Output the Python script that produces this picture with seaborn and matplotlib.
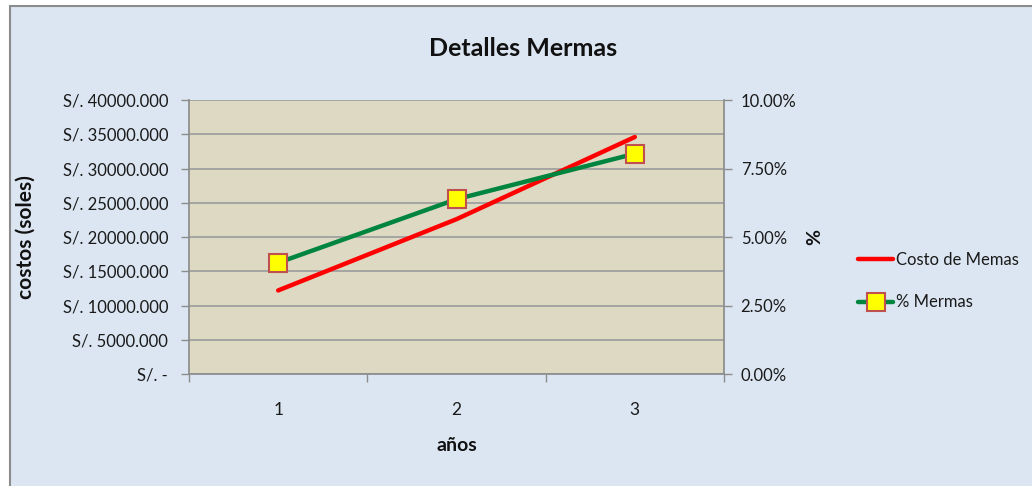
import matplotlib
matplotlib.use("Agg")
import matplotlib.pyplot as plt
import seaborn as sns
import pandas as pd
from matplotlib.patches import Rectangle
from matplotlib.ticker import FuncFormatter, FixedLocator, NullFormatter

# ---- data ----
years = [1, 2, 3]
costo_memas = [12200, 22600, 34600]
pct_mermas = [4.06, 6.38, 8.04]
year_labels = ["1", "2", "3"]
series_names = ["Costo de Memas", "% Mermas"]

sns.set_theme(style="white")
plt.rcParams['font.family'] = ['Lato', 'DejaVu Sans']

W, H = 1032, 486
fig = plt.figure(figsize=(W / 100, H / 100), dpi=100, facecolor="white")

# chart area background with border (top-left corner visible)
fig.patches.append(Rectangle((10 / W, -0.5), 1.5, 1.5 - 6 / H, transform=fig.transFigure,
                             facecolor="#dce6f2", edgecolor="#8c8c8c", linewidth=1.5, zorder=-10))

left, right, top, bottom = 189 / W, 724 / W, 100 / H, 374 / H
ax = fig.add_axes([left, 1 - bottom, right - left, bottom - top])
ax.set_facecolor("#ddd9c3")
ax2 = ax.twinx()

df = pd.DataFrame({"year": years, "costo": costo_memas, "pct": pct_mermas})

sns.lineplot(data=df, x="year", y="costo", ax=ax, color="#ff0000", linewidth=3.2,
             label=series_names[0], legend=False, zorder=3)
sns.lineplot(data=df, x="year", y="pct", ax=ax2, color="#00853e", linewidth=3.2,
             marker="s", markersize=13, markerfacecolor="#ffff00", markeredgecolor="#c0504d",
             markeredgewidth=1.5, label=series_names[1], legend=False, zorder=3)

ax.set_xlim(0.5, 3.5)
ax.set_ylim(0, 40000)
ax2.set_ylim(0, 10)

ax.set_yticks(range(0, 40001, 5000))
ax.yaxis.set_major_formatter(FuncFormatter(lambda v, p: "S/. -" if v == 0 else f"S/. {v:.3f}"))
ax2.set_yticks([0, 2.5, 5, 7.5, 10])
ax2.yaxis.set_major_formatter(FuncFormatter(lambda v, p: f"{v:.2f}%"))

# x category axis: ticks at boundaries, labels centered
ax.xaxis.set_major_locator(FixedLocator([0.5, 1.5, 2.5, 3.5]))
ax.xaxis.set_major_formatter(NullFormatter())
ax.xaxis.set_minor_locator(FixedLocator(years))
ax.set_xticklabels(year_labels, minor=True)
ax.tick_params(axis="x", which="major", length=6, color="#8c8c8c", width=1, direction="out", bottom=True)
ax.tick_params(axis="x", which="minor", length=0, pad=20, labelsize=12.5, labelcolor="#1a1a1a")
ax.tick_params(axis="y", length=6, color="#8c8c8c", width=1, direction="out", left=True,
               labelsize=12, labelcolor="#1a1a1a", pad=9)
ax2.tick_params(axis="y", length=6, color="#8c8c8c", width=1, direction="out", right=True,
                labelsize=12, labelcolor="#1a1a1a", pad=6)

ax.grid(axis="y", color="#a0a0a0", linewidth=1.3)
ax.grid(axis="x", visible=False)
ax2.grid(False)
for a in (ax, ax2):
    for s in a.spines.values():
        s.set_visible(False)
ax.spines["left"].set_visible(True)
ax.spines["left"].set_color("#8c8c8c")
ax.spines["bottom"].set_visible(True)
ax.spines["bottom"].set_color("#8c8c8c")
ax2.spines["right"].set_visible(True)
ax2.spines["right"].set_color("#8c8c8c")

ax.set_xlabel("años", fontsize=14, fontweight="bold", color="#111111")
ax.xaxis.set_label_coords((457 - 189) / (724 - 189), -(445 - 374) / (374 - 100))
ax.set_ylabel("costos (soles)", fontsize=15, fontweight="bold", color="#111111")
ax.yaxis.set_label_coords((26 - 189) / (724 - 189), 0.5)
ax.yaxis.label.set_va("center")
ax2.set_ylabel("%", fontsize=14, fontweight="bold", color="#111111", rotation=90)
ax2.yaxis.set_label_coords((815 - 189) / (724 - 189), 0.5)
ax2.yaxis.label.set_va("center")
ax.xaxis.label.set_va("center")

fig.text(523 / W, 1 - 49 / H, "Detalles Mermas", ha="center", va="center",
         fontsize=18, fontweight="bold", color="#111111")

fig.legend(handles=[ax.lines[0], ax2.lines[0]], labels=series_names,
           loc="center left", bbox_to_anchor=(843 / W, 1 - 281 / H), frameon=False,
           fontsize=12, handlelength=2.1, handletextpad=0.2, labelspacing=1.6,
           labelcolor="#1a1a1a")

fig.savefig("out.png", dpi=100, facecolor=fig.get_facecolor())
